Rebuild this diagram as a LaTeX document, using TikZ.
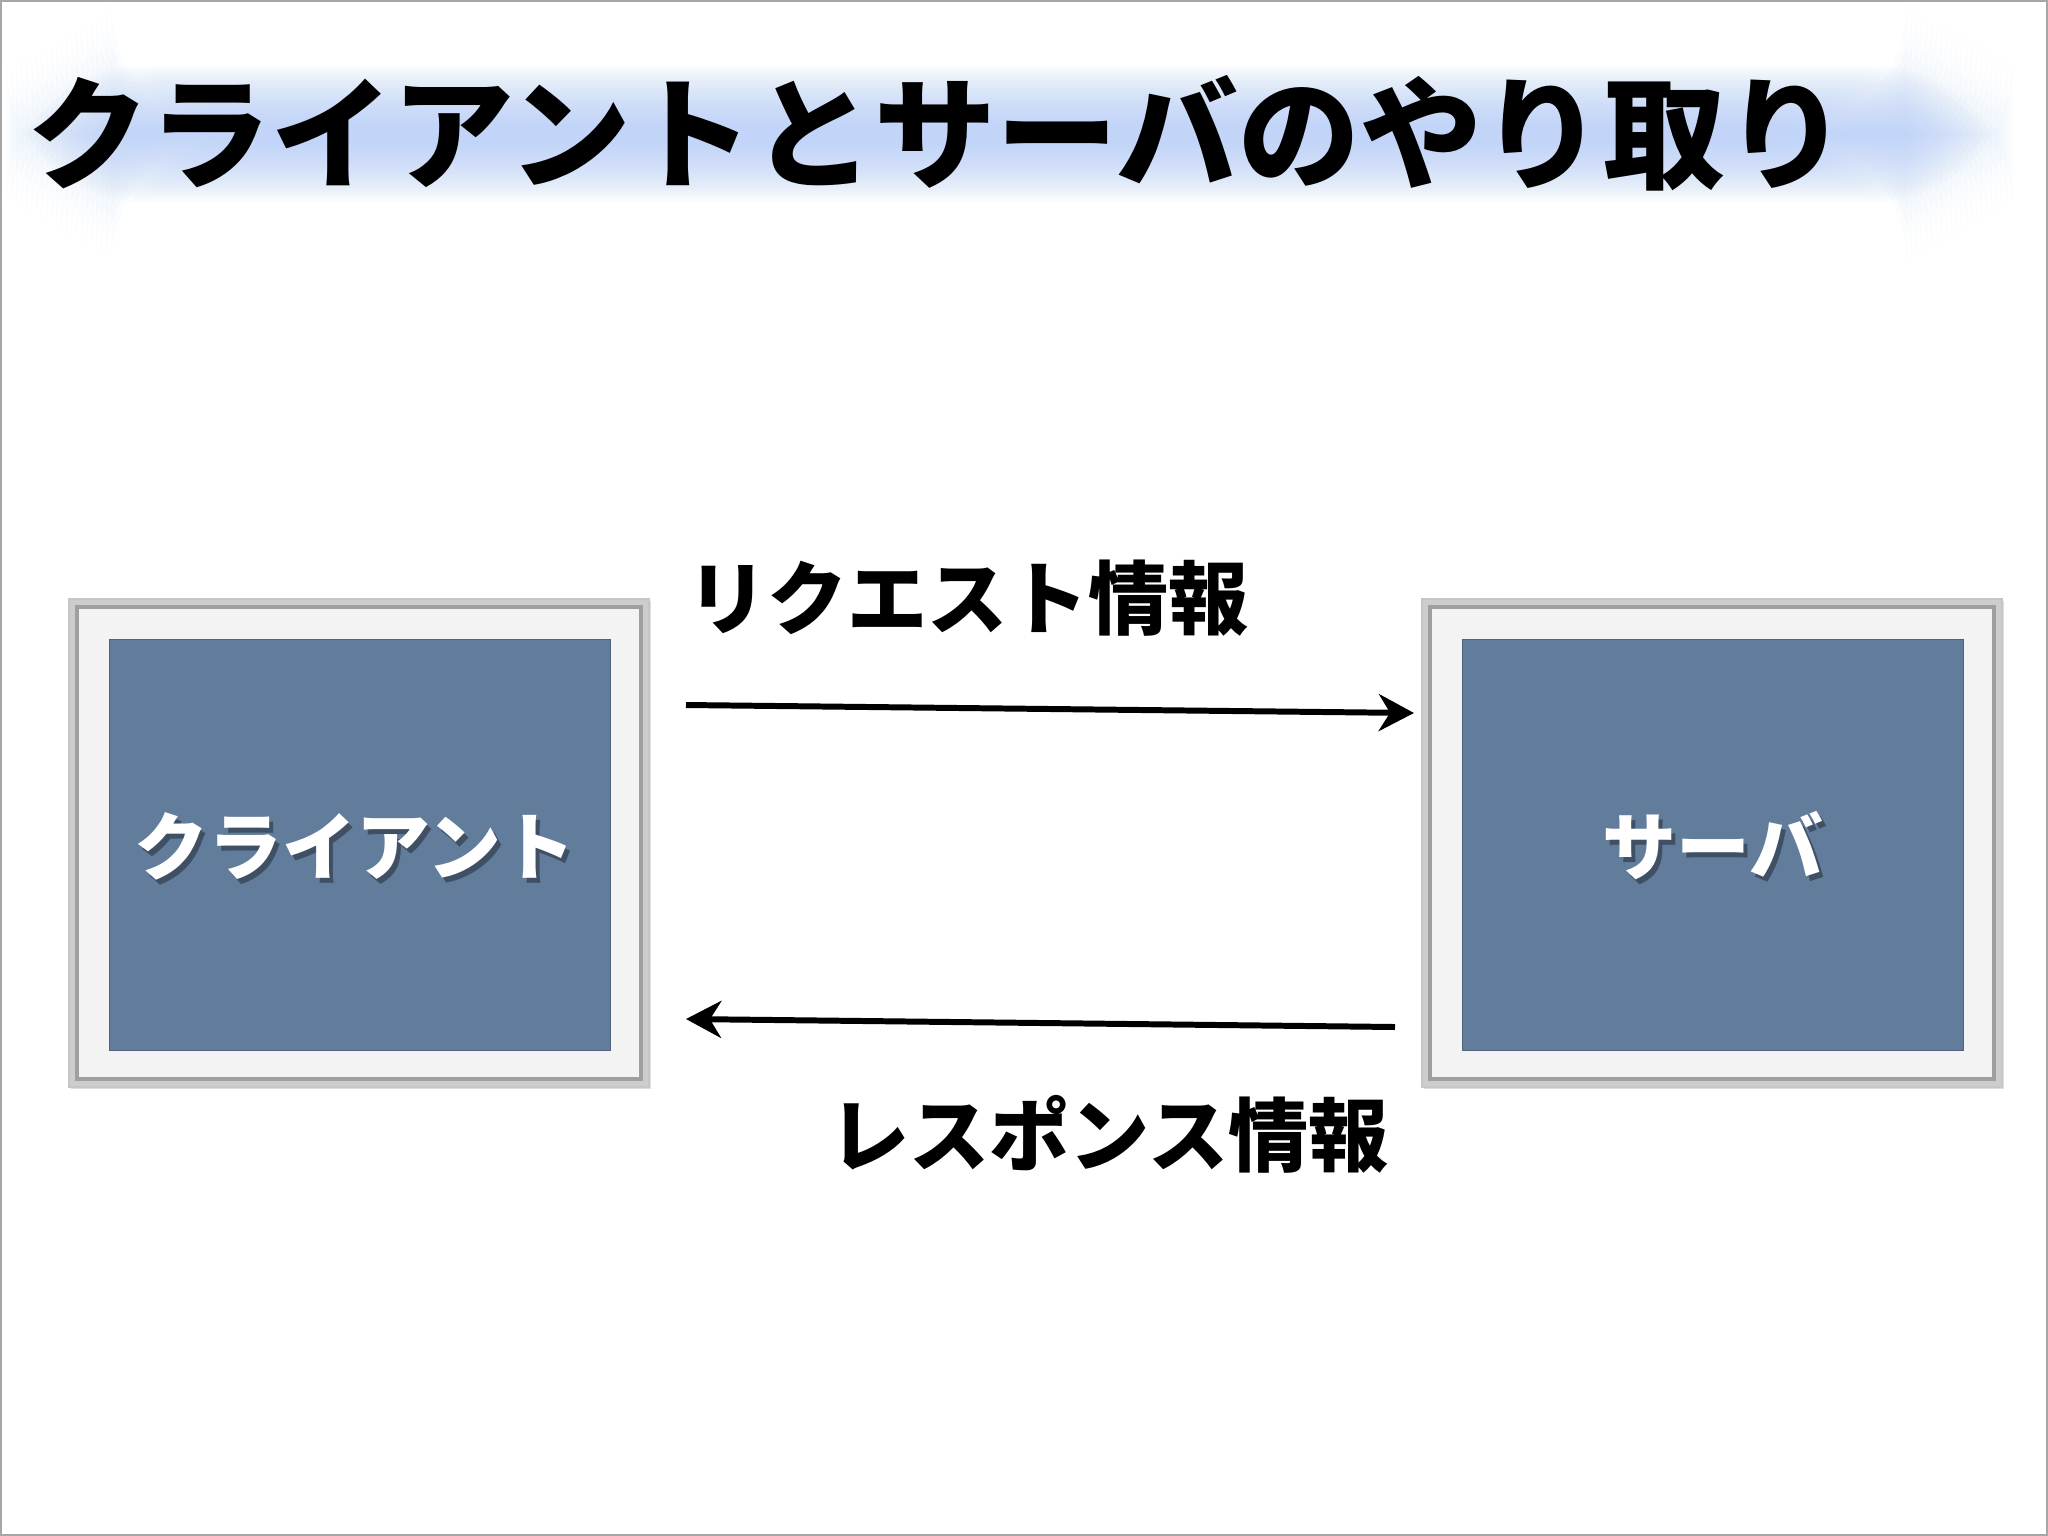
\documentclass[tikz,border=0pt]{standalone}
\usepackage{fontspec}
\setmainfont{Noto Sans CJK JP}
\usetikzlibrary{arrows.meta,shadows}
\definecolor{slateblue}{RGB}{98,124,156}
\definecolor{matwhite}{RGB}{243,243,243}
\definecolor{framegray}{RGB}{205,205,205}
\definecolor{glowblue}{RGB}{180,205,248}
\tikzset{
  frameouter/.style={fill=framegray, draw=gray!45, line width=0.4pt, minimum width=5.80cm, minimum height=4.88cm, inner sep=0pt,
    drop shadow={opacity=0.25, shadow xshift=0.6pt, shadow yshift=-0.6pt}},
  framemat/.style={fill=matwhite, draw=gray!75, line width=1.1pt, minimum width=5.64cm, minimum height=4.72cm, inner sep=0pt},
  bluepanel/.style={fill=slateblue, draw=slateblue!80!black, line width=0.3pt, minimum width=5.00cm, minimum height=4.10cm, inner sep=0pt},
  boxlabel/.style={text=white, font=\bfseries\fontsize{21}{25}\selectfont, inner sep=0pt},
  boxshadow/.style={text=black, opacity=0.35, font=\bfseries\fontsize{21}{25}\selectfont, inner sep=0pt},
  arrowlabel/.style={text=black, font=\bfseries\fontsize{22.8}{27}\selectfont, inner sep=0pt},
  flow/.style={line width=1.7pt, -{Stealth[length=10pt, width=10.5pt, inset=3.2pt]}}
}
\begin{document}
\begin{tikzpicture}[x=0.01cm,y=-0.01cm]
\useasboundingbox (0,0) rectangle (2048,1536);
\fill[white] (0,0) rectangle (2048,1536);
\draw[gray!70, line width=0.8pt] (1,1) rectangle (2047,1535);
% title glow
\foreach \i in {0,...,21} {
  \fill[glowblue, opacity=0.06, rounded corners=40] (6+\i*5, 66+\i*2.8) rectangle (2012-\i*5, 202-\i*2.8);
}
\node[anchor=west, inner sep=0pt, font=\bfseries\fontsize{34.6}{40}\selectfont] (title) at (27,133) {クライアントとサーバのやり取り};
% client frame
\node[frameouter] (clientframe) at (359,843) {};
\node[framemat] (clientmat) at (359,843) {};
\node[bluepanel] (client) at (360,845) {};
\node[boxshadow] at (359,851) {クライアント};
\node[boxlabel] (clienttext) at (355,846) {クライアント};
% server frame
\node[frameouter] (serverframe) at (1712,843) {};
\node[framemat] (servermat) at (1712,843) {};
\node[bluepanel] (server) at (1713,845) {};
\node[boxshadow] at (1717,851) {サーバ};
\node[boxlabel] (servertext) at (1713,846) {サーバ};
% arrows
\coordinate (reqstart) at (686,705);
\coordinate (reqend) at (1414,713);
\coordinate (resstart) at (1395,1027);
\coordinate (resend) at (686,1019);
\begin{scope}[x=1cm,y=1cm]
\draw[flow] (reqstart) -- (reqend);
\draw[flow] (resstart) -- (resend);
\end{scope}
\node[arrowlabel] (reqlabel) at (968,598) {リクエスト情報};
\node[arrowlabel] (reslabel) at (1109,1134) {レスポンス情報};
\end{tikzpicture}
\end{document}
